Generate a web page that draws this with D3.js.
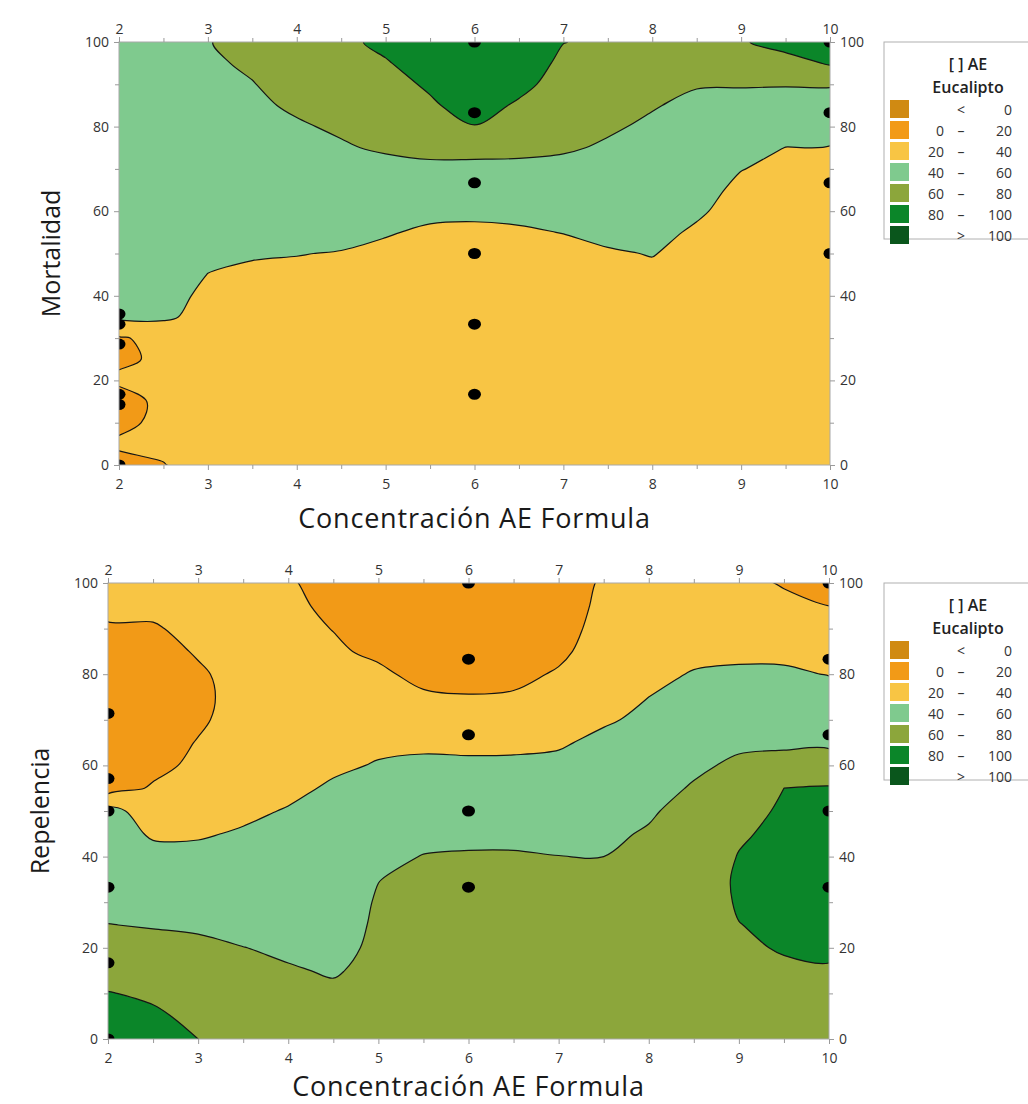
<!DOCTYPE html>
<html>
<head>
<meta charset="utf-8">
<script src="https://cdn.jsdelivr.net/npm/d3@7"></script>
<style>
  body { margin: 0; background: #fff; }
  text { font-family: "Open Sans", sans-serif; }
</style>
</head>
<body>
<svg id="chart" width="1028" height="1104"></svg>
<script>
let concentracion = [2, 2.5, 3, 3.5, 4, 4.5, 5, 5.5, 6, 6.5, 7, 7.5, 8, 8.5, 9, 9.5, 10];
let nivelY = [0, 5, 10, 15, 20, 25, 30, 35, 40, 45, 50, 55, 60, 65, 70, 75, 80, 85, 90, 95, 100];

// one column per concentracion, values from y = 0 up to y = 100
let mortalidad = [
  [16, 22, 17, 15, 22, 18, 18, 44, 46, 47, 48, 49, 50, 51, 52, 53, 54, 55, 56, 56, 57],
  [19.5, 23, 23, 23, 24, 22, 26, 43, 45, 47, 48, 49, 50, 51, 52, 53, 54, 55, 56, 57, 58],
  [26, 27, 28, 29, 30, 31, 32, 34, 37, 39.8, 43, 45, 47, 49, 51, 53, 54, 55, 56.5, 58, 59.5],
  [27, 28, 29, 30, 31, 32, 33, 34.5, 36, 38, 41, 44, 47, 49.5, 52, 54, 56, 57.5, 59.5, 62, 64],
  [27, 28, 29, 30, 31, 32, 33, 34.5, 36, 38, 40.3, 43, 46, 49, 52, 55, 58.5, 62, 65, 68, 71],
  [27, 28, 29, 30, 31, 32, 33, 34.5, 36, 37.5, 39.5, 43, 47, 51, 55, 58.5, 62, 66, 70, 74, 77],
  [27, 28, 29, 30, 31, 32, 33, 34, 35.5, 37, 38.5, 40.5, 45, 50, 55, 62, 67, 71, 75, 79, 83],
  [27, 28, 29, 30, 31, 32, 33, 34, 35, 36, 37, 39, 41.5, 47, 56, 65, 72, 78, 82, 86, 90],
  [27, 28, 29, 30, 31, 32, 33, 34, 35, 36, 37, 38.5, 41.5, 47, 55, 66, 79.5, 86, 90, 93, 95],
  [27, 28, 29, 30, 31, 32, 33, 34, 35, 36, 37, 39, 42, 47, 56, 64, 72, 78, 84, 88, 91],
  [27, 28, 29, 30, 31, 32, 33, 34, 35, 36, 37.5, 40.2, 44, 49, 55, 62, 67, 71, 74, 77, 80.3],
  [27, 28, 29, 30, 31, 32, 33, 34, 35, 37, 39, 42.5, 46, 50, 54, 58, 62, 66, 70, 74, 77],
  [27, 28, 29, 30, 31, 32, 33, 34.5, 36, 38, 40.4, 43, 46, 49, 52, 55, 57.5, 61, 65, 69, 73],
  [27, 28, 29, 30, 31, 32, 33, 34, 35, 36, 37, 38.5, 41.5, 44, 47, 50, 53, 56.5, 61, 66, 72],
  [27, 28, 29, 29.5, 30, 30.5, 31, 31.5, 32, 33, 34, 35, 36, 37.5, 40.3, 45, 50, 55, 61, 70, 78],
  [27, 27.5, 28, 28.5, 29, 29.5, 30, 30.5, 31, 31.5, 32, 33, 34, 35.5, 37.5, 39.8, 46, 53, 61, 72, 88],
  [27, 27.5, 28, 28.5, 29, 29.5, 30, 30.5, 31, 31.5, 32, 33, 34, 35.5, 37, 39.5, 45, 52, 61.5, 82, 90]
];

let repelencia = [
  [88, 84, 80.5, 75, 68, 60.3, 55, 51, 49, 48, 47, 11.5, 10, 9, 8, 8, 9, 11, 17, 27, 32],
  [86, 82, 78, 72, 65, 59, 54, 49, 45, 38, 29, 22, 15, 11, 9, 8, 9, 12, 18, 25, 30],
  [80, 77, 73, 68, 63, 58, 53, 49, 44, 38.5, 32, 27, 24, 21, 17, 15, 17, 22, 26, 30, 33],
  [76, 72.5, 69, 65, 60.2, 56, 52, 48, 45, 41.5, 37, 33, 30, 29, 28, 28, 28, 28, 28, 27, 26],
  [72, 68, 64.5, 61, 58, 55, 52, 49.5, 47, 44.5, 41, 36.5, 33, 31, 30, 29, 28, 27, 26, 24, 22],
  [68, 65, 62, 59, 57, 55.5, 54, 52, 49.5, 47, 44.5, 42, 37.5, 34, 31, 28.5, 26, 23, 19.5, 16, 13],
  [66, 65, 64, 63, 62, 61.5, 61, 59.8, 56, 52, 48, 45, 41, 37, 33, 29, 24, 16, 11, 7, 4],
  [68, 67.5, 67, 66.5, 66, 65, 64, 62.5, 60.5, 56, 51, 47, 43, 37, 31, 23, 14, 9, 6, 4, 3],
  [70, 70, 69.5, 69, 68, 67, 65.5, 64, 61.5, 56, 51, 47, 43, 36, 29, 21, 13, 8, 5, 3, 2],
  [70, 70, 69.5, 69, 68, 67, 65.5, 64, 61.5, 56, 51, 47, 43, 36.5, 30, 22, 15, 10, 7, 5, 4],
  [70, 70, 69.5, 69, 68, 67, 65, 63, 60.2, 56, 52, 48, 44, 38, 33, 28, 22, 16, 12, 9, 7],
  [70, 70, 69.5, 69, 68, 67, 65, 63, 60, 57, 54, 51, 48, 44, 38, 35, 32, 29, 27, 25, 23],
  [72, 72, 71.5, 71, 70, 69, 67.5, 66, 64, 61.5, 58, 54, 50, 47, 43.5, 40, 36, 33, 30, 28, 26],
  [74, 74, 74, 74, 74, 74, 74, 73.5, 72, 69, 66, 61.5, 57, 53, 49, 45, 41, 36, 33, 30, 28],
  [76, 76.5, 77, 78, 79, 79.8, 81, 81.5, 80.5, 78.5, 75, 70, 63, 57, 52, 48, 43, 36, 32, 29, 27],
  [77, 77.5, 78, 79, 80.5, 82, 83, 83.5, 83.5, 83, 82, 80, 70, 55, 50, 46, 42, 37, 32, 26, 18],
  [77, 77.5, 78, 79.5, 81, 83, 84, 84.5, 84.5, 84, 83, 81, 71, 56, 51, 46, 39.5, 34, 28, 20, 14]
];

// measured design points [concentracion, y]
let mortalidadPuntos = [[2, 0], [2, 14.3], [2, 16.7], [2, 28.6], [2, 33.3], [2, 35.7],
  [6, 16.7], [6, 33.3], [6, 50], [6, 66.7], [6, 83.3], [6, 100],
  [10, 50], [10, 66.7], [10, 83.3], [10, 100]];
let repelenciaPuntos = [[2, 0], [2, 16.7], [2, 33.3], [2, 50], [2, 57.1], [2, 71.4],
  [6, 33.3], [6, 50], [6, 66.7], [6, 83.3], [6, 100],
  [10, 33.3], [10, 50], [10, 66.7], [10, 83.3], [10, 100]];

let niveles = [0, 20, 40, 60, 80, 100];
let colores = ["#D08A12", "#F29A17", "#F8C544", "#7FCA8E", "#8CA63B", "#0B8629", "#0A561C"];
let leyenda = [["", "<", "0"], ["0", "–", "20"], ["20", "–", "40"], ["40", "–", "60"],
  ["60", "–", "80"], ["80", "–", "100"], ["", ">", "100"]];

let xTicks = [2, 3, 4, 5, 6, 7, 8, 9, 10];
let xMenores = [2.5, 3.5, 4.5, 5.5, 6.5, 7.5, 8.5, 9.5];
let yTicks = [0, 20, 40, 60, 80, 100];
let yMenores = [10, 30, 50, 70, 90];

let svg = d3.select("#chart");

function estiloEje(g) {
  g.select(".domain").remove();
  g.selectAll("line").attr("stroke", "#9a9a9a");
  g.selectAll("text").attr("fill", "#333").attr("font-size", "14px")
    .attr("font-family", "'Open Sans', sans-serif");
}

function dibujarPanel(cfg) {
  let x = d3.scaleLinear().domain([2, 10]).range([cfg.left, cfg.right]);
  let y = d3.scaleLinear().domain([0, 100]).range([cfg.bottom, cfg.top]);
  let nx = concentracion.length, ny = nivelY.length;
  let dx = concentracion[1] - concentracion[0], dy = nivelY[1] - nivelY[0];

  let values = new Array(nx * ny);
  cfg.grid.forEach((col, i) => col.forEach((v, j) => { values[j * nx + i] = v; }));
  let contornos = d3.contours().size([nx, ny]).thresholds(niveles)(values);

  // contour coords: cell i sits at i + 0.5
  let px = c => x(concentracion[0] + (c - 0.5) * dx);
  let py = c => y(nivelY[0] + (c - 0.5) * dy);
  let anillo = d3.line().x(p => px(p[0])).y(p => py(p[1]))
    .curve(d3.curveCatmullRomClosed.alpha(0.5));
  let camino = mp => mp.coordinates
    .map(poly => poly.map(r => anillo(r.slice(0, -1))).join("")).join("");

  let g = svg.append("g");
  g.append("clipPath").attr("id", cfg.id)
    .append("rect")
    .attr("x", cfg.left).attr("y", cfg.top)
    .attr("width", cfg.right - cfg.left).attr("height", cfg.bottom - cfg.top);

  let area = g.append("g").attr("clip-path", "url(#" + cfg.id + ")");
  area.append("rect")
    .attr("x", cfg.left).attr("y", cfg.top)
    .attr("width", cfg.right - cfg.left).attr("height", cfg.bottom - cfg.top)
    .attr("fill", colores[0]);

  area.selectAll(".banda")
    .data(contornos)
    .enter()
    .append("path")
    .attr("class", "banda")
    .attr("d", camino)
    .attr("fill", (d, i) => colores[i + 1])
    .attr("fill-rule", "evenodd")
    .attr("stroke", "#151515")
    .attr("stroke-width", 1.2);

  area.selectAll(".punto")
    .data(cfg.puntos)
    .enter()
    .append("ellipse")
    .attr("class", "punto")
    .attr("cx", d => x(d[0]))
    .attr("cy", d => y(d[1]))
    .attr("rx", 6.5)
    .attr("ry", 5.5)
    .attr("fill", "#000");

  g.append("rect")
    .attr("x", cfg.left).attr("y", cfg.top)
    .attr("width", cfg.right - cfg.left).attr("height", cfg.bottom - cfg.top)
    .attr("fill", "none").attr("stroke", "#a8a8a8");

  // axes on all four sides
  g.append("g").attr("transform", "translate(0," + cfg.bottom + ")")
    .call(d3.axisBottom(x).tickValues(xTicks).tickSize(5).tickPadding(9)).call(estiloEje);
  g.append("g").attr("transform", "translate(0," + cfg.bottom + ")")
    .call(d3.axisBottom(x).tickValues(xMenores).tickSize(4).tickFormat("")).call(estiloEje);
  g.append("g").attr("transform", "translate(0," + cfg.top + ")")
    .call(d3.axisTop(x).tickValues(xTicks).tickSize(5).tickPadding(3)).call(estiloEje);
  g.append("g").attr("transform", "translate(0," + cfg.top + ")")
    .call(d3.axisTop(x).tickValues(xMenores).tickSize(4).tickFormat("")).call(estiloEje);
  g.append("g").attr("transform", "translate(" + cfg.left + ",0)")
    .call(d3.axisLeft(y).tickValues(yTicks).tickSize(5).tickPadding(5)).call(estiloEje);
  g.append("g").attr("transform", "translate(" + cfg.left + ",0)")
    .call(d3.axisLeft(y).tickValues(yMenores).tickSize(4).tickFormat("")).call(estiloEje);
  g.append("g").attr("transform", "translate(" + cfg.right + ",0)")
    .call(d3.axisRight(y).tickValues(yTicks).tickSize(5).tickPadding(5)).call(estiloEje);
  g.append("g").attr("transform", "translate(" + cfg.right + ",0)")
    .call(d3.axisRight(y).tickValues(yMenores).tickSize(4).tickFormat("")).call(estiloEje);

  g.append("text")
    .attr("x", (cfg.left + cfg.right) / 2)
    .attr("y", cfg.xTitleY)
    .attr("text-anchor", "middle")
    .attr("dominant-baseline", "central")
    .attr("font-size", "27px")
    .attr("letter-spacing", "0.8px")
    .attr("fill", "#1a1a1a")
    .text("Concentración AE Formula");

  g.append("text")
    .attr("transform", "translate(" + cfg.yTitleX + "," + (cfg.top + cfg.bottom) / 2 + ") rotate(-90)")
    .attr("text-anchor", "middle")
    .attr("dominant-baseline", "central")
    .attr("font-size", "25px")
    .attr("fill", "#1a1a1a")
    .text(cfg.titulo);

  // legend
  let lg = svg.append("g").attr("transform", "translate(884," + cfg.top + ")");
  lg.append("rect").attr("width", 160).attr("height", 197)
    .attr("fill", "#fff").attr("stroke", "#b0b0b0");
  lg.append("text").attr("x", 84).attr("y", 22)
    .attr("text-anchor", "middle").attr("dominant-baseline", "central")
    .attr("font-size", "16px").attr("font-weight", 600).attr("fill", "#222")
    .text("[ ] AE");
  lg.append("text").attr("x", 84).attr("y", 45)
    .attr("text-anchor", "middle").attr("dominant-baseline", "central")
    .attr("font-size", "16px").attr("font-weight", 600).attr("fill", "#222")
    .text("Eucalipto");

  let fila = lg.selectAll(".fila")
    .data(leyenda)
    .enter()
    .append("g")
    .attr("class", "fila")
    .attr("transform", (d, i) => "translate(0," + (67 + 21 * i) + ")");
  fila.append("rect").attr("x", 6).attr("y", -9).attr("width", 19).attr("height", 18)
    .attr("fill", (d, i) => colores[i]);
  fila.append("text").attr("x", 60).attr("text-anchor", "end")
    .attr("dominant-baseline", "central").attr("font-size", "14px").attr("fill", "#333")
    .text(d => d[0]);
  fila.append("text").attr("x", 77).attr("text-anchor", "middle")
    .attr("dominant-baseline", "central").attr("font-size", "14px").attr("fill", "#333")
    .text(d => d[1]);
  fila.append("text").attr("x", 128).attr("text-anchor", "end")
    .attr("dominant-baseline", "central").attr("font-size", "14px").attr("fill", "#333")
    .text(d => d[2]);
}

dibujarPanel({
  id: "clip-mortalidad", grid: mortalidad, puntos: mortalidadPuntos, titulo: "Mortalidad",
  left: 119, right: 830, top: 42, bottom: 465, xTitleY: 517, yTitleX: 50
});
dibujarPanel({
  id: "clip-repelencia", grid: repelencia, puntos: repelenciaPuntos, titulo: "Repelencia",
  left: 108, right: 829, top: 583, bottom: 1039, xTitleY: 1085, yTitleX: 39
});
</script>
</body>
</html>
